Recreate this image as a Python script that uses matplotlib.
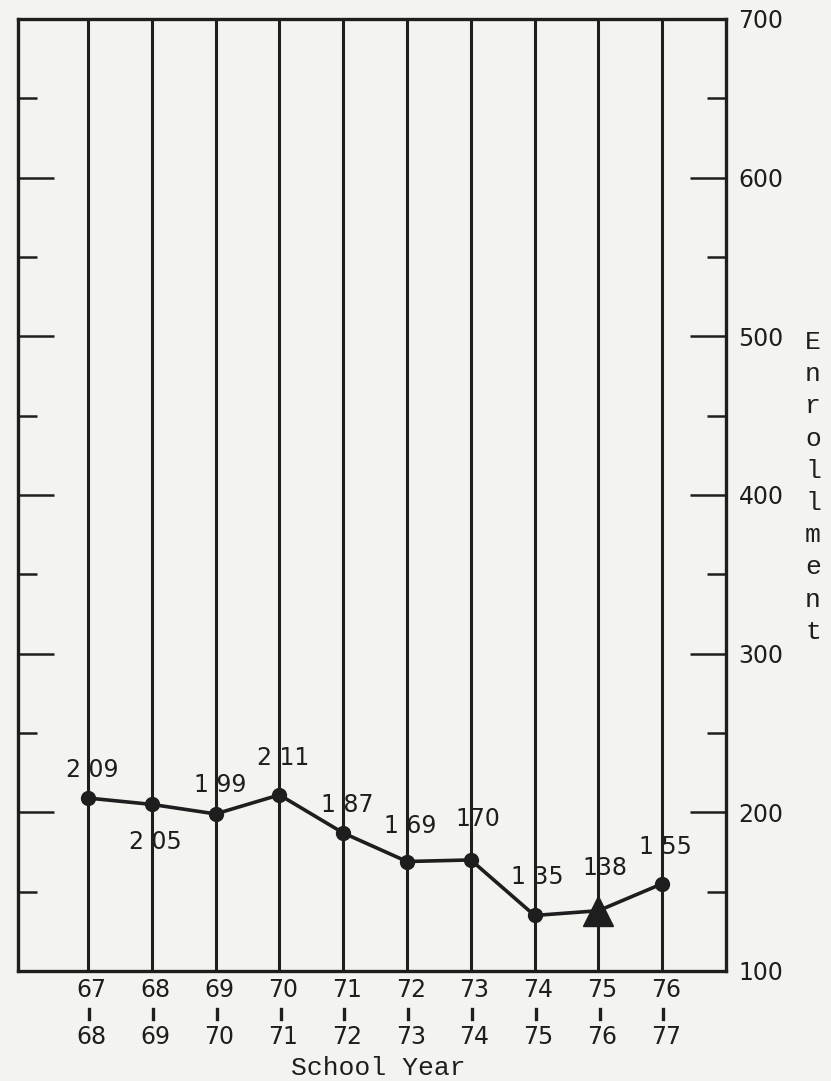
import matplotlib
matplotlib.use('Agg')
import matplotlib.pyplot as plt
import matplotlib.transforms as mtransforms

# Enrollment by school year
years_from = ['67', '68', '69', '70', '71', '72', '73', '74', '75', '76']
years_to = ['68', '69', '70', '71', '72', '73', '74', '75', '76', '77']
enrollment = [209, 205, 199, 211, 187, 169, 170, 135, 138, 155]
# typed labels have a gap where the grid line crosses them
label_gap = [True, True, True, True, True, True, False, True, False, True]
y_ticks = [100, 200, 300, 400, 500, 600, 700]
y_minor = [150, 250, 350, 450, 550, 650]

# label offsets from each point, in pixels (dx, dy)
label_offsets = [(4, 28), (4, -38), (5, 29), (4, 37), (4, 28),
                 (3, 36), (7, 41), (3, 38), (7, 43), (3, 37)]

INK = '#1e1e1e'
PAPER = '#f3f3f0'
NUM_FONT = 'DejaVu Sans'
TYPE_FONT = 'Liberation Mono'

W, H = 831, 1081
fig = plt.figure(figsize=(W / 100, H / 100), dpi=100, facecolor=PAPER)
ax = fig.add_axes([18 / W, 1 - 971 / H, (726 - 18) / W, (971 - 19) / H])
ax.set_facecolor(PAPER)

xs = list(range(len(enrollment)))
ax.set_xlim(-1.097, 10.0)
ax.set_ylim(y_ticks[0], y_ticks[-1])

for s in ax.spines.values():
    s.set_color(INK)
    s.set_linewidth(2.4)

# vertical line per school year
for x in xs:
    ax.axvline(x, color=INK, lw=2.2, zorder=1)

# inward ticks on both sides
ax.set_xticks([])
ax.set_yticks(y_ticks)
ax.set_yticks(y_minor, minor=True)
ax.tick_params(axis='y', which='major', direction='in', length=26, width=1.8,
               color=INK, left=True, right=True, labelleft=False,
               labelright=True, labelsize=17, labelcolor=INK, pad=9)
ax.tick_params(axis='y', which='minor', direction='in', length=14, width=1.8,
               color=INK, left=True, right=True)
for lab in ax.get_yticklabels():
    lab.set_fontfamily(NUM_FONT)
# hide the end ticks that sit on the frame
for t in (ax.yaxis.get_major_ticks()[0], ax.yaxis.get_major_ticks()[-1]):
    t.tick1line.set_visible(False)
    t.tick2line.set_visible(False)

# data line
ax.plot(xs, enrollment, color=INK, lw=2.6, zorder=3, clip_on=False)
circ = [i for i in xs if i != 8]
ax.plot([xs[i] for i in circ], [enrollment[i] for i in circ], 'o',
        color=INK, ms=10, zorder=4, clip_on=False)
ax.plot([xs[8]], [enrollment[8]], '^', color=INK, ms=22, zorder=4)

for x, v, gap, (dx, dy) in zip(xs, enrollment, label_gap, label_offsets):
    txt = f"{v // 100} {v % 100:02d}" if gap else str(v)
    ax.annotate(txt, (x, v), xytext=(dx, dy), textcoords='offset pixels',
                ha='center', va='center', fontsize=17, family=NUM_FONT,
                color=INK, zorder=5)

# two-line school year labels under the axis
trans = mtransforms.blended_transform_factory(ax.transData, fig.transFigure)
for x, a, b in zip(xs, years_from, years_to):
    ax.text(x + 0.06, 1 - 990 / H, a, transform=trans, ha='center',
            va='center', fontsize=17, family=NUM_FONT, color=INK)
    ax.plot([x + 0.02, x + 0.02], [1 - 1009 / H, 1 - 1019 / H],
            transform=trans, color=INK, lw=2.4, clip_on=False)
    ax.text(x + 0.06, 1 - 1037 / H, b, transform=trans, ha='center',
            va='center', fontsize=17, family=NUM_FONT, color=INK)

fig.text(378 / W, 1 - 1068 / H, 'School Year', ha='center', va='center',
         fontsize=19, family=TYPE_FONT, color=INK)

# vertical axis title, one typed letter per line
for i, ch in enumerate('Enrollment'):
    fig.text(813 / W, 1 - (342 + 32.2 * i) / H, ch, ha='center',
             va='center', fontsize=19, family=TYPE_FONT, color=INK)

fig.savefig('out.png', dpi=100, facecolor=PAPER)
